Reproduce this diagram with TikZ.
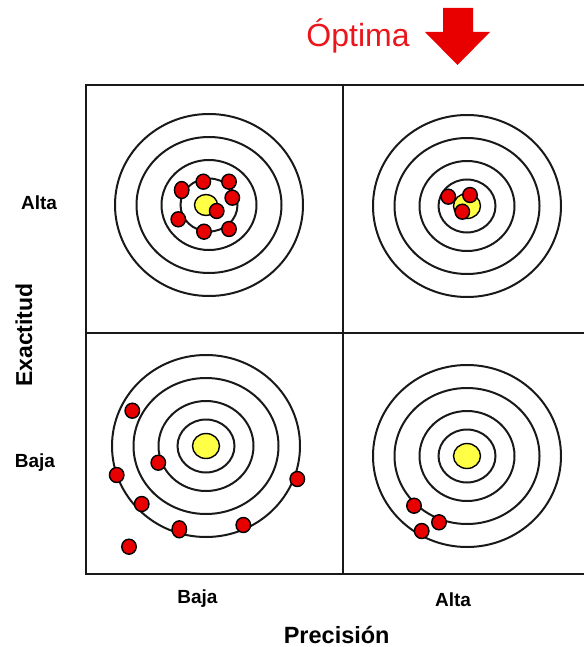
\documentclass[tikz,border=0pt]{standalone}
\usepackage{fontspec}
\setmainfont{Liberation Sans}
\usetikzlibrary{shapes.geometric}
\definecolor{hitred}{RGB}{232,0,0}
\definecolor{bullyellow}{RGB}{255,255,70}
\definecolor{titlered}{RGB}{234,22,28}

% four concentric rings around a named centre
\newcommand\rings[1]{%
  \draw[ring] (#1) ellipse [x radius=94pt, y radius=91pt];
  \draw[ring] (#1) ellipse [x radius=72.5pt, y radius=68pt];
  \draw[ring] (#1) ellipse [x radius=47.5pt, y radius=45pt];
  \draw[ring] (#1) ellipse [x radius=28.5pt, y radius=26.5pt];
}

\begin{document}
\begin{tikzpicture}[x=1pt,y=-1pt,
  grid/.style={line width=2.2pt, black!90},
  ring/.style={line width=2pt, black!90},
  hit/.style={ellipse, draw=black, line width=1.4pt, fill=hitred,
              minimum width=14.5pt, minimum height=15pt, inner sep=0pt},
  bull/.style={ellipse, draw=black, line width=1.4pt, fill=bullyellow,
               minimum width=27pt, minimum height=25pt, inner sep=0pt},
  lbl/.style={font=\bfseries\fontsize{19}{19}\selectfont, inner sep=0pt, anchor=base},
]
\useasboundingbox (0,0) rectangle (584,647);

% grid
\coordinate (g-tl) at (86,85);
\coordinate (g-tr) at (584,85);
\coordinate (g-bl) at (86,574);
\coordinate (g-br) at (584,574);
\coordinate (g-mt) at (343,85);
\coordinate (g-mb) at (343,574);
\coordinate (g-ml) at (86,333);
\coordinate (g-mr) at (584,333);
\draw[grid] (g-tr) -- (g-tl) -- (g-bl) -- (g-br);
\draw[grid] (g-mt) -- (g-mb);
\draw[grid] (g-ml) -- (g-mr);

% target centres
\coordinate (t-hl) at (209,205);  % high accuracy, low precision
\coordinate (t-hh) at (467,206);  % high accuracy, high precision
\coordinate (t-ll) at (206,446);  % low accuracy, low precision
\coordinate (t-lh) at (467,456);  % low accuracy, high precision

\rings{t-hl}
\rings{t-hh}
\rings{t-ll}
\rings{t-lh}

\node[bull, minimum width=23pt, minimum height=21pt] (b-hl) at (206,205) {};
\node[bull] (b-hh) at (t-hh) {};
\node[bull] (b-ll) at (t-ll) {};
\node[bull] (b-lh) at (t-lh) {};

% hits, top left
\node[hit, minimum height=17pt] (hl1) at (181.7,190) {};
\node[hit] (hl2) at (203.3,181.7) {};
\node[hit] (hl3) at (229,181.7) {};
\node[hit] (hl4) at (232.3,197.7) {};
\node[hit] (hl5) at (216.7,211) {};
\node[hit] (hl6) at (178.3,219.3) {};
\node[hit] (hl7) at (204,231.7) {};
\node[hit] (hl8) at (229,229) {};

% hits, top right
\node[hit] (hh1) at (448.3,196.7) {};
\node[hit] (hh2) at (470,195) {};
\node[hit] (hh3) at (462.3,211.7) {};

% hits, bottom left
\node[hit] (ll1) at (132.3,410.7) {};
\node[hit] (ll2) at (158.3,462.7) {};
\node[hit] (ll3) at (116.7,475) {};
\node[hit] (ll4) at (297.3,479) {};
\node[hit] (ll5) at (141.7,504) {};
\node[hit, minimum height=17pt] (ll6) at (179.3,529.3) {};
\node[hit] (ll7) at (243.3,525) {};
\node[hit] (ll8) at (129,546.7) {};

% hits, bottom right
\node[hit] (lh1) at (414,505.7) {};
\node[hit] (lh2) at (439,522.3) {};
\node[hit] (lh3) at (421.7,531) {};

% heading and its arrow
\node[font=\fontsize{32}{32}\selectfont, text=titlered, inner sep=0pt, anchor=base]
  (optima) at (358,46.7) {Óptima};
\fill[hitred] (443,8) -- (473,8) -- (473,32) -- (490,32) -- (457.5,65)
  -- (425,32) -- (443,32) -- cycle;

% axis labels
\node[lbl] (acc-hi) at (39,209) {Alta};
\node[lbl] (acc-lo) at (35,467) {Baja};
\node[font=\bfseries\fontsize{23}{23}\selectfont, inner sep=0pt, rotate=90]
  (acc) at (24,335) {Exactitud};
\node[lbl] (pre-lo) at (197.5,603.5) {Baja};
\node[lbl] (pre-hi) at (453,606.5) {Alta};
\node[font=\bfseries\fontsize{23.5}{23.5}\selectfont, inner sep=0pt, anchor=base]
  (pre) at (336.7,643) {Precisión};
\end{tikzpicture}
\end{document}
